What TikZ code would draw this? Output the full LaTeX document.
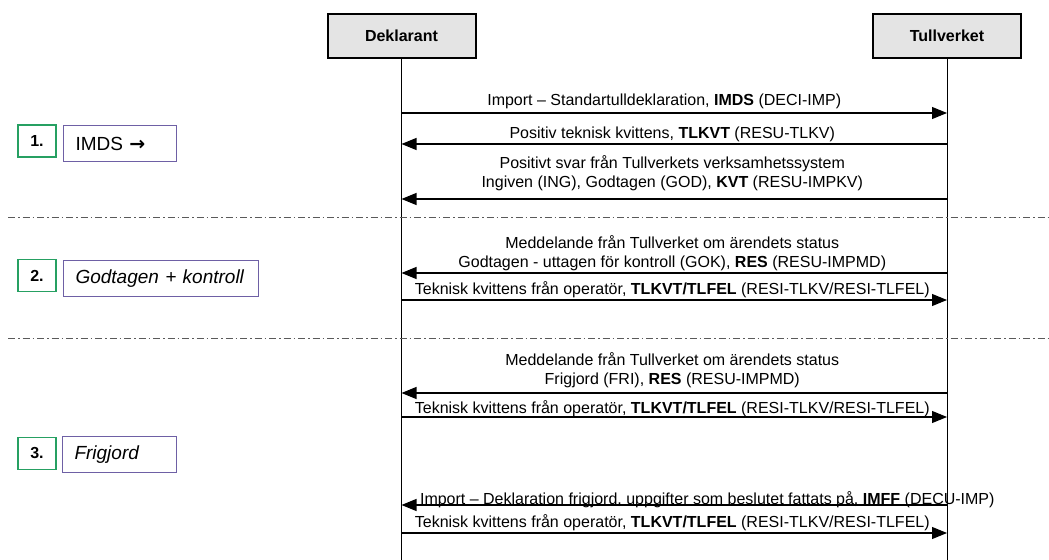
\documentclass[tikz,border=0pt]{standalone}
\usepackage{fontspec}
\setmainfont{Liberation Sans}
\newfontfamily\arrowfont{DejaVu Sans}
\usetikzlibrary{arrows.meta}
\definecolor{numgreen}{RGB}{38,160,98}
\definecolor{phaseviolet}{RGB}{110,96,165}
\definecolor{actorfill}{RGB}{228,228,228}
\definecolor{sepgray}{RGB}{90,90,90}
\newcommand{\msgfont}{\fontsize{16bp}{19bp}\selectfont}
\newcommand{\phasefont}{\fontsize{19bp}{23bp}\selectfont}

\begin{document}
\begin{tikzpicture}[x=1bp, y=-1bp,
  actor/.style={draw, line width=2bp, fill=actorfill, minimum width=148bp, minimum height=44bp, font=\msgfont\bfseries},
  lifeline/.style={line width=1bp},
  msg/.style={-{Triangle[length=15bp,width=12bp]}, line width=1.1bp},
  lbl/.style={font=\msgfont, align=center, anchor=south, inner sep=0pt},
  sep/.style={sepgray, line width=1bp, dash pattern=on 7bp off 3bp on 1.5bp off 3bp},
  stepnum/.style={draw=numgreen, line width=1.8bp, minimum width=38bp, minimum height=32bp, font=\msgfont\bfseries},
  phase/.style={draw=phaseviolet, line width=1bp, anchor=west, minimum height=36bp, inner xsep=12bp, align=left, font=\phasefont}
]
\useasboundingbox (0,0) rectangle (1049,560);

\node[actor] (D) at (401.5,36) {Deklarant};
\node[actor] (T) at (947,36) {Tullverket};
\coordinate (Dend) at (401.5,560);
\coordinate (Tend) at (947,560);
\draw[lifeline] (D) -- (Dend);
\draw[lifeline] (T) -- (Tend);

\foreach \n/\y in {1/113,2/144,3/199,4/273,5/300,6/393,7/417,8/505,9/533}{
  \coordinate (d\n) at (401.5,\y);
  \coordinate (t\n) at (947,\y);
}

\draw[msg] (d1) -- node[lbl, yshift=4bp, xshift=-10bp]{Import – Standartulldeklaration, \textbf{IMDS} (DECI-IMP)} (t1);
\draw[msg] (t2) -- node[lbl, yshift=2bp, xshift=-2bp]{Positiv teknisk kvittens, \textbf{TLKVT} (RESU-TLKV)} (d2);
\draw[msg] (t3) -- node[lbl, yshift=8bp, xshift=-2bp]{Positivt svar från Tullverkets verksamhetssystem\\Ingiven (ING), Godtagen (GOD), \textbf{KVT} (RESU-IMPKV)} (d3);

\draw[sep] (8,218) -- (1049,218);

\draw[msg] (t4) -- node[lbl, yshift=2bp, xshift=-2bp]{Meddelande från Tullverket om ärendets status\\Godtagen - uttagen för kontroll (GOK), \textbf{RES} (RESU-IMPMD)} (d4);
\draw[msg] (d5) -- node[lbl, yshift=2bp, xshift=-2bp]{Teknisk kvittens från operatör, \textbf{TLKVT/TLFEL} (RESI-TLKV/RESI-TLFEL)} (t5);

\draw[sep] (8,339) -- (1049,339);

\draw[msg] (t6) -- node[lbl, yshift=5bp, xshift=-2bp]{Meddelande från Tullverket om ärendets status\\Frigjord (FRI), \textbf{RES} (RESU-IMPMD)} (d6);
\draw[msg] (d7) -- node[lbl, yshift=0bp, xshift=-2bp]{Teknisk kvittens från operatör, \textbf{TLKVT/TLFEL} (RESI-TLKV/RESI-TLFEL)} (t7);
\draw[msg] (t8) -- node[lbl, pos=1, anchor=south west, xshift=18bp, yshift=-3bp]{Import – Deklaration frigjord, uppgifter som beslutet fattats på, \textbf{IMFF} (DECU-IMP)} (d8);
\draw[msg] (d9) -- node[lbl, yshift=2bp, xshift=-2bp]{Teknisk kvittens från operatör, \textbf{TLKVT/TLFEL} (RESI-TLKV/RESI-TLFEL)} (t9);

\node[stepnum] (N1) at (37,141) {1.};
\node[phase, text width=89bp] (P1) at (63,144) {IMDS {\arrowfont\bfseries →}};
\node[stepnum] (N2) at (37,275.5) {2.};
\node[phase, text width=171bp] (P2) at (63,279) {\itshape Godtagen + kontroll};
\node[stepnum] (N3) at (37,453.5) {3.};
\node[phase, text width=90bp] (P3) at (62,454.5) {\itshape Frigjord};

\end{tikzpicture}
\end{document}
